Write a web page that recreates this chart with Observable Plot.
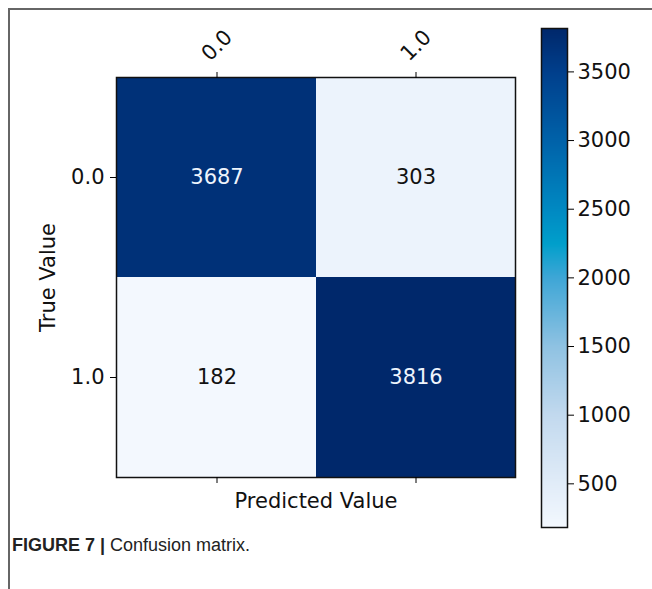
<!DOCTYPE html>
<html><head><meta charset="utf-8">
<script src="https://cdn.jsdelivr.net/npm/d3@7"></script>
<script src="https://cdn.jsdelivr.net/npm/@observablehq/plot@0.6"></script>
<style>
html,body{margin:0;padding:0;background:#fff;}
#fig{position:relative;width:652px;height:589px;overflow:hidden;background:#fff;}
#frame{position:absolute;left:8px;top:8px;width:700px;height:700px;border-top:2px solid #666;border-left:2px solid #666;}
#main{position:absolute;left:0;top:0;}
#cbar{position:absolute;left:541px;top:0;}
#caption{position:absolute;left:12px;top:535px;font-family:"Liberation Sans",Arial,sans-serif;font-size:18px;color:#222;white-space:nowrap;}
#caption b{font-weight:bold;}
</style></head>
<body><div id="fig"><div id="frame"></div><div id="main"></div><div id="cbar"></div>
<div id="caption"><b>FIGURE 7 |</b> Confusion matrix.</div></div>
<script>
const categories = ["0.0", "1.0"];
const trueLabels = ["0.0", "0.0", "1.0", "1.0"];
const predLabels = ["0.0", "1.0", "0.0", "1.0"];
const counts = [3687, 303, 182, 3816];
const colorTicks = [500, 1000, 1500, 2000, 2500, 3000, 3500];
const xTitle = "Predicted Value";
const yTitle = "True Value";
// colormap stops (look of the reference "Blues" bar)
const stopValues = [182, 500, 1000, 1500, 2000, 2250, 2500, 3000, 3500, 3816];
const stopColors = ["#f3f8fe", "#e1ecf8", "#c2d9ee", "#8fc2e2", "#3ea6d6", "#009fcb", "#0089c2", "#0062a9", "#003f8c", "#00286b"];

const data = counts.map((v, i) => ({truth: trueLabels[i], pred: predLabels[i], value: v}));
const vmin = d3.min(counts), vmax = d3.max(counts);
const color = {type: "linear", domain: stopValues, range: stopColors, interpolate: "rgb", clamp: true};
const font = "'DejaVu Sans', sans-serif";

const main = Plot.plot({
  width: 652, height: 589,
  marginLeft: 116, marginRight: 137, marginTop: 77, marginBottom: 112,
  style: {fontFamily: font, fontSize: "21px", color: "#000", background: "transparent", overflow: "visible"},
  x: {domain: categories, padding: 0, axis: null},
  y: {domain: categories, padding: 0, axis: null},
  color,
  marks: [
    Plot.cell(data, {x: "pred", y: "truth", fill: "value", inset: 0}),
    Plot.text(data, {x: "pred", y: "truth", text: d => String(d.value), fill: d => d.value > vmax / 2 ? "#eef4fc" : "#111", fontSize: 21}),
    Plot.frame({stroke: "#111", strokeWidth: 1.5}),
    Plot.axisX({anchor: "top", tickSize: 6, tickRotate: -45, textAnchor: "middle", lineAnchor: "middle", tickPadding: 26, label: null, fill: "#111"}),
    Plot.axisX({anchor: "bottom", tickSize: 6, tickFormat: () => "", label: xTitle, labelAnchor: "center", labelOffset: 30, fill: "#111"}),
    Plot.axisY({anchor: "left", tickSize: 6, tickPadding: 6, label: yTitle, labelAnchor: "center", labelOffset: 76, fill: "#111"})
  ]
});
document.getElementById("main").append(main);

const cbar = Plot.plot({
  width: 111, height: 589,
  marginLeft: 0, marginRight: 85, marginTop: 28, marginBottom: 62,
  style: {fontFamily: font, fontSize: "21px", color: "#000", background: "transparent", overflow: "visible"},
  x: {domain: [0, 1], axis: null},
  y: {domain: [vmin, vmax], axis: null},
  color,
  marks: [
    Plot.raster({x1: 0, x2: 1, y1: vmin, y2: vmax, width: 1, height: 500, fill: (x, y) => y, imageRendering: "auto"}),
    Plot.frame({stroke: "#111", strokeWidth: 1.5}),
    Plot.axisY({anchor: "right", ticks: colorTicks, tickSize: 6, tickPadding: 4, tickFormat: d => String(d), label: null, fill: "#111"})
  ]
});
document.getElementById("cbar").append(cbar);
</script>
</body></html>
